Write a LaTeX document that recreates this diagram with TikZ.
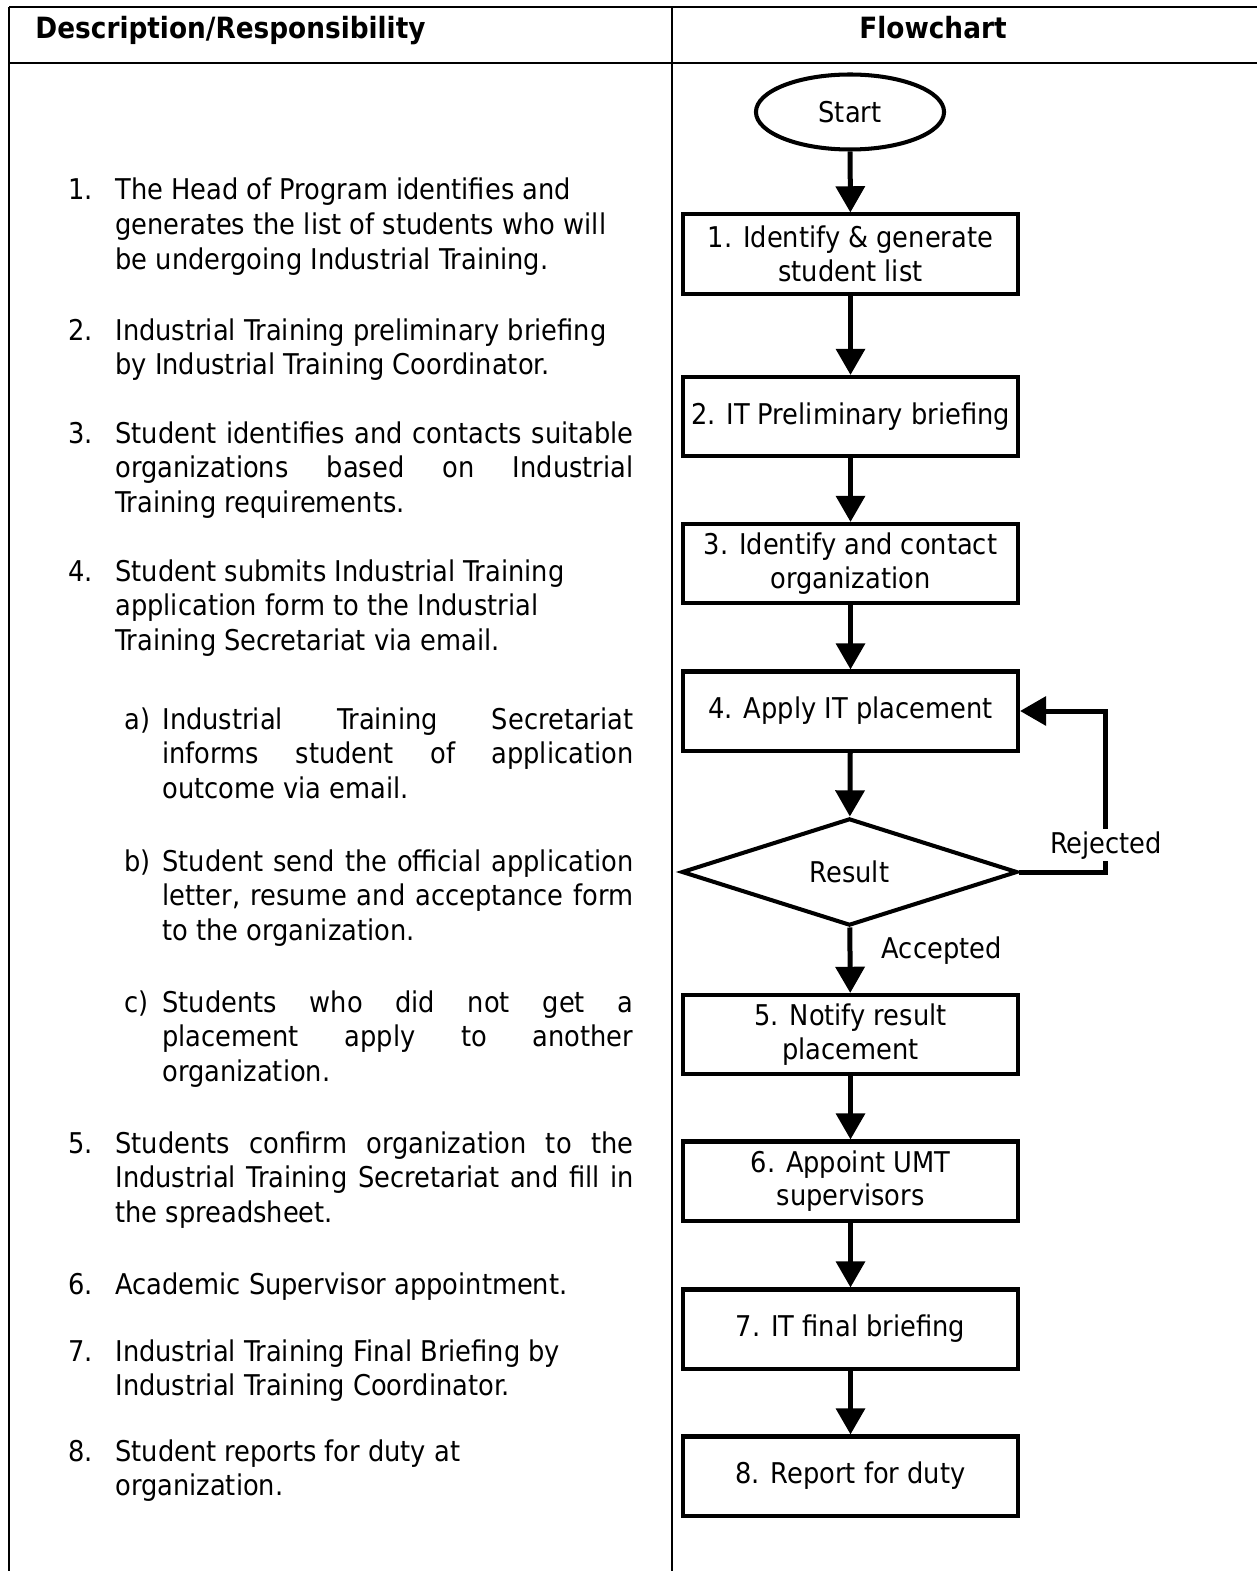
\documentclass[tikz,border=0pt]{standalone}
\usepackage{fontspec}
\setmainfont{DejaVu Sans Condensed}[BoldFont={DejaVu Sans Condensed Bold}]
\usetikzlibrary{shapes.geometric}
\usetikzlibrary{arrows.meta}
\usetikzlibrary{positioning}
\tikzset{
  tableline/.style={draw=black, line width=0.85pt},
  headtext/.style={anchor=base, inner sep=0pt, font=\fontsize{12.3}{14}\selectfont\bfseries},
  itemnum/.style={anchor=base west, inner sep=0pt, font=\fontsize{12}{14.5}\selectfont},
  itemtext/.style={anchor=base west, inner sep=0pt, text width=217.6pt, align=justify, font=\fontsize{12}{14.5}\selectfont},
  subtext/.style={itemtext, text width=197.8pt},
  flowbox/.style={draw=black, fill=white, line width=1.7pt, minimum width=140.7pt, minimum height=33.2pt, inner sep=1pt, align=center, font=\fontsize{12}{14}\selectfont},
  startnode/.style={flowbox, ellipse, minimum width=79pt, minimum height=31.5pt},
  decision/.style={flowbox, diamond, minimum width=141pt, minimum height=45pt, inner sep=0pt},
  flowarrow/.style={line width=2.1pt, -{Triangle[length=11pt,width=12pt]}},
  flowlabel/.style={inner sep=1pt, font=\fontsize{12}{14}\selectfont}
}
\begin{document}
\begin{tikzpicture}[x=0.42pt, y=-0.42pt]
\useasboundingbox (0,0) rectangle (1257,1571);
% table
\draw[tableline] (9,7) -- (1257,7);
\draw[tableline] (9,63) -- (1257,63);
\draw[tableline] (9,7) -- (9,1571);
\draw[tableline] (672,7) -- (672,1571);
\node[headtext, anchor=base west] (hdesc) at (35,39) {Description/Responsibility};
\node[headtext] (hflow) at (933,39) {Flowchart};

% description column
\node[itemnum] (n1) at (68,200) {1.};
\node[itemtext] (t1) at (115,200) {The Head of Program identifies and\\ generates the list of students who will\\ be undergoing Industrial Training.};
\node[itemnum] (n2) at (68,340) {2.};
\node[itemtext] (t2) at (115,340) {Industrial Training preliminary briefing\\ by Industrial Training Coordinator.};
\node[itemnum] (n3) at (68,443) {3.};
\node[itemtext] (t3) at (115,443) {Student identifies and contacts suitable\linebreak organizations based on Industrial\linebreak Training requirements.};
\node[itemnum] (n4) at (68,581) {4.};
\node[itemtext] (t4) at (115,581) {Student submits Industrial Training\\ application form to the Industrial\\ Training Secretariat via email.};
\node[itemnum] (na) at (124,729) {a)};
\node[subtext] (ta) at (162,729) {Industrial Training Secretariat\linebreak informs student of application\linebreak outcome via email.};
\node[itemnum] (nb) at (124,871) {b)};
\node[subtext] (tb) at (162,871) {Student send the official application\linebreak letter, resume and acceptance form\linebreak to the organization.};
\node[itemnum] (nc) at (124,1012) {c)};
\node[subtext] (tc) at (162,1012) {Students who did not get a\linebreak placement apply to another\linebreak organization.};
\node[itemnum] (n5) at (68,1153) {5.};
\node[itemtext] (t5) at (115,1153) {Students confirm organization to the\linebreak Industrial Training Secretariat and fill in\linebreak the spreadsheet.};
\node[itemnum] (n6) at (68,1294) {6.};
\node[itemtext] (t6) at (115,1294) {Academic Supervisor appointment.};
\node[itemnum] (n7) at (68,1361) {7.};
\node[itemtext] (t7) at (115,1361) {Industrial Training Final Briefing by\\ Industrial Training Coordinator.};
\node[itemnum] (n8) at (68,1461) {8.};
\node[itemtext] (t8) at (115,1461) {Student reports for duty at\\ organization.};

% flowchart column
\node[startnode] (start) at (850,112) {Start};
\node[flowbox] (list) at (850.5,254) {1. Identify \& generate\\ student list};
\node[flowbox] (brief) at (850.5,416.5) {2. IT Preliminary briefing};
\node[flowbox] (contact) at (850.5,563.5) {3. Identify and contact\\ organization};
\node[flowbox] (apply) at (850.5,711) {4. Apply IT placement};
\node[decision] (result) at (849.5,872) {Result};
\node[flowbox] (notify) at (850.5,1034.5) {5. Notify result\\ placement};
\node[flowbox] (appoint) at (850.5,1181) {6. Appoint UMT\\ supervisors};
\node[flowbox] (final) at (850.5,1329) {7. IT final briefing};
\node[flowbox] (duty) at (850.5,1476) {8. Report for duty};

\draw[flowarrow] (start) -- (list);
\draw[flowarrow] (list) -- (brief);
\draw[flowarrow] (brief) -- (contact);
\draw[flowarrow] (contact) -- (apply);
\draw[flowarrow] (apply) -- (result);
\draw[flowarrow] (result) -- (notify);
\draw[flowarrow] (notify) -- (appoint);
\draw[flowarrow] (appoint) -- (final);
\draw[flowarrow] (final) -- (duty);
\draw[flowarrow] (result.east) -- ++(86,0) |- (apply.east);
\node[flowlabel, fill=white, anchor=base] (rej) at (1106,853) {Rejected};
\node[flowlabel, anchor=base west] (acc) at (879,958) {Accepted};
\end{tikzpicture}
\end{document}
